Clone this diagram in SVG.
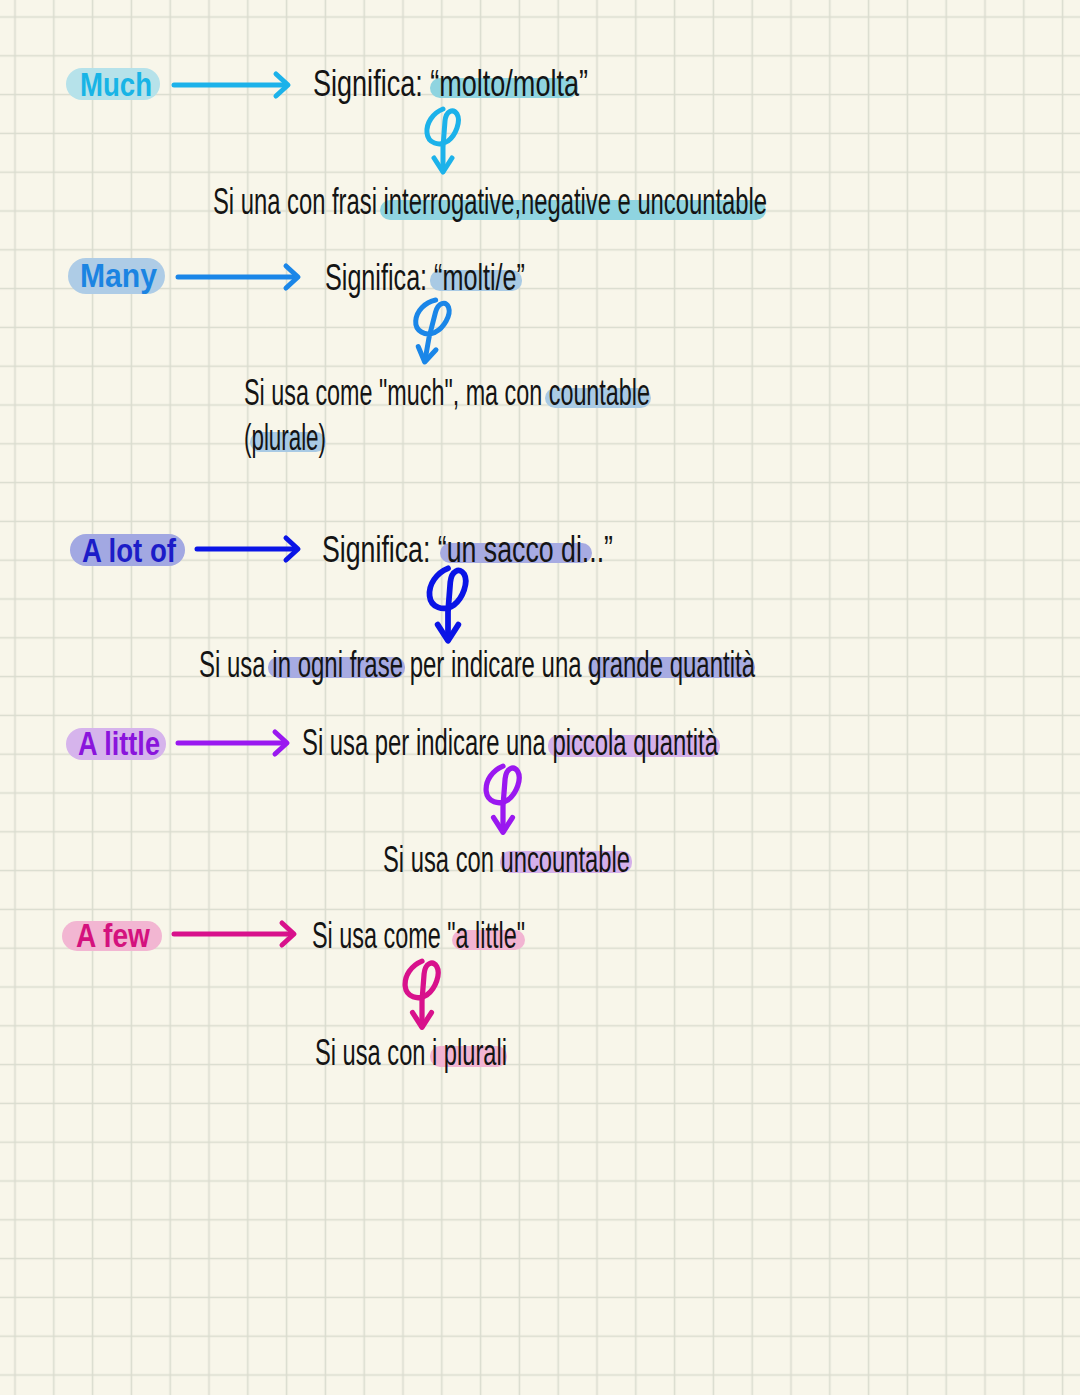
<svg xmlns="http://www.w3.org/2000/svg" width="1080" height="1395" viewBox="0 0 1080 1395">
<defs>
<pattern id="grid" patternUnits="userSpaceOnUse" x="-4.4" y="-2.4" width="38.8" height="38.8">
<path d="M19.4 0 V38.8 M0 19.4 H38.8" stroke="#dadccf" stroke-width="1.6" fill="none"/>
</pattern>
<g id="phi" fill="none" stroke="currentColor" stroke-width="5" stroke-linecap="round" stroke-linejoin="round">
<path d="M 0,2 C -10,6 -17,16 -16,26 C -15,36 -4,40 5,34 C 13,28 18,14 14,7 C 10,1 3,4 2,14 L 0,40 L 0,64"/>
<path d="M -9,51 L 0,65 L 9,51"/>
</g>
<g id="arrowhead" fill="none" stroke="currentColor" stroke-width="5" stroke-linecap="round" stroke-linejoin="round">
<path d="M -12,-11 L 0,0 L -12,11"/>
</g>
</defs>
<style>
.t{font-family:"Liberation Sans",Arial,sans-serif;font-size:36px;fill:#141414}
.lb{font-family:"Liberation Sans",Arial,sans-serif;font-size:33px;font-weight:bold}
.ln{fill:none;stroke-width:5;stroke-linecap:round}
</style>
<rect width="1080" height="1395" fill="#f8f6ea"/>
<rect width="1080" height="1395" fill="url(#grid)"/>

<g id="highlights">
<rect x="430" y="78" width="148" height="20" rx="10" fill="#8fd4e0"/>
<rect x="380" y="200" width="386" height="20" rx="10" fill="#8fd4e0"/>
<rect x="430" y="270" width="92" height="21" rx="10" fill="#a9cae4"/>
<rect x="545" y="388" width="106" height="20" rx="10" fill="#a9cae4"/>
<rect x="250" y="432" width="76" height="20" rx="10" fill="#a9cae4"/>
<rect x="440" y="543" width="152" height="20" rx="10" fill="#a7abe2"/>
<rect x="268" y="657" width="137" height="21" rx="10" fill="#a7abe2"/>
<rect x="588" y="657" width="167" height="21" rx="10" fill="#a7abe2"/>
<rect x="548" y="735" width="172" height="22" rx="10" fill="#d4b0ea"/>
<rect x="500" y="851" width="132" height="22" rx="10" fill="#d4b0ea"/>
<rect x="452" y="930" width="73" height="20" rx="10" fill="#f2b4d2"/>
<rect x="430" y="1046" width="77" height="21" rx="10" fill="#f2b4d2"/>
</g>

<g id="much">
<rect x="66" y="68" width="94" height="32" rx="16" fill="#b6e2ea"/>
<text class="lb" x="80" y="96" fill="#18b4e6" textLength="72" lengthAdjust="spacingAndGlyphs">Much</text>
</g>
<g id="much-meaning">
<text class="t" x="313" y="96" textLength="275" lengthAdjust="spacingAndGlyphs">Significa: “molto/molta”</text>
</g>
<g id="much-use">
<text class="t" x="213" y="214" textLength="554" lengthAdjust="spacingAndGlyphs">Si una con frasi interrogative,negative e uncountable</text>
</g>

<g id="many">
<rect x="68" y="258" width="97" height="36" rx="18" fill="#aecce6"/>
<text class="lb" x="80" y="287" fill="#1b84e2" textLength="77" lengthAdjust="spacingAndGlyphs">Many</text>
</g>
<g id="many-meaning">
<text class="t" x="325" y="290" textLength="200" lengthAdjust="spacingAndGlyphs">Significa: “molti/e”</text>
</g>
<g id="many-use">
<text class="t" x="244" y="405" textLength="406" lengthAdjust="spacingAndGlyphs">Si usa come "much", ma con countable</text>
<text class="t" x="244" y="450" textLength="82" lengthAdjust="spacingAndGlyphs">(plurale)</text>
</g>

<g id="alotof">
<rect x="70" y="534" width="115" height="32" rx="16" fill="#a2a8e2"/>
<text class="lb" x="82" y="562" fill="#1c1cc8" textLength="94" lengthAdjust="spacingAndGlyphs">A lot of</text>
</g>
<g id="alotof-meaning">
<text class="t" x="322" y="562" textLength="291" lengthAdjust="spacingAndGlyphs">Significa: “un sacco di...”</text>
</g>
<g id="alotof-use">
<text class="t" x="199" y="677" textLength="556" lengthAdjust="spacingAndGlyphs">Si usa in ogni frase per indicare una grande quantità</text>
</g>

<g id="alittle">
<rect x="66" y="728" width="100" height="32" rx="16" fill="#d6b4ec"/>
<text class="lb" x="78" y="755" fill="#8a14dc" textLength="82" lengthAdjust="spacingAndGlyphs">A little</text>
</g>
<g id="alittle-meaning">
<text class="t" x="302" y="755" textLength="416" lengthAdjust="spacingAndGlyphs">Si usa per indicare una piccola quantità</text>
</g>
<g id="alittle-use">
<text class="t" x="383" y="872" textLength="247" lengthAdjust="spacingAndGlyphs">Si usa con uncountable</text>
</g>

<g id="afew">
<rect x="62" y="921" width="100" height="30" rx="15" fill="#f2b6d2"/>
<text class="lb" x="76" y="947" fill="#d4127e" textLength="74" lengthAdjust="spacingAndGlyphs">A few</text>
</g>
<g id="afew-meaning">
<text class="t" x="312" y="948" textLength="213" lengthAdjust="spacingAndGlyphs">Si usa come "a little"</text>
</g>
<g id="afew-use">
<text class="t" x="315" y="1065" textLength="192" lengthAdjust="spacingAndGlyphs">Si usa con i plurali</text>
</g>

<g id="connectors">
<g color="#1cb2ea">
<line class="ln" x1="174" y1="85" x2="286" y2="85" stroke="currentColor"/>
<use href="#arrowhead" transform="translate(288,85)"/>
<use href="#phi" transform="translate(443,107)"/>
</g>
<g color="#1a86e8">
<line class="ln" x1="178" y1="277" x2="296" y2="277" stroke="currentColor"/>
<use href="#arrowhead" transform="translate(298,277)"/>
<use href="#phi" transform="translate(436,298) rotate(10)"/>
</g>
<g color="#0a14e6">
<line class="ln" x1="197" y1="549" x2="296" y2="549" stroke="currentColor"/>
<use href="#arrowhead" transform="translate(298,549)"/>
<use href="#phi" transform="translate(448,566) scale(1.15)"/>
</g>
<g color="#9a18f0">
<line class="ln" x1="178" y1="743" x2="285" y2="743" stroke="currentColor"/>
<use href="#arrowhead" transform="translate(287,743)"/>
<use href="#phi" transform="translate(503,764) scale(1.05)"/>
</g>
<g color="#d8118c">
<line class="ln" x1="174" y1="934" x2="292" y2="934" stroke="currentColor"/>
<use href="#arrowhead" transform="translate(294,934)"/>
<use href="#phi" transform="translate(422,959) scale(1.05)"/>
</g>
</g>
</svg>
